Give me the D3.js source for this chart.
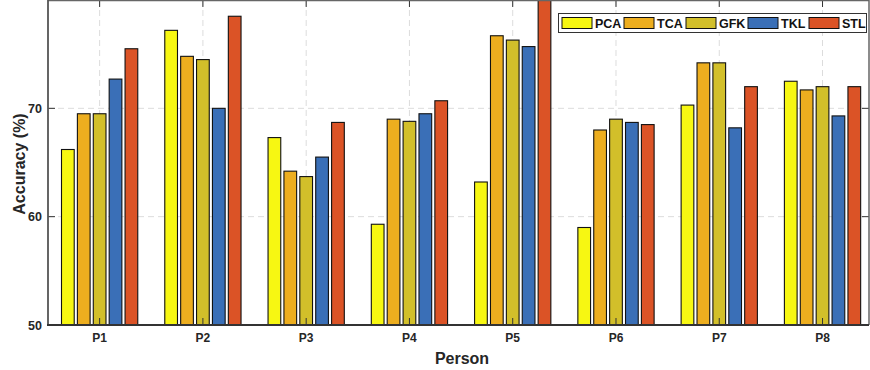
<!DOCTYPE html>
<html>
<head>
<meta charset="utf-8">
<script src="https://cdn.jsdelivr.net/npm/d3@7"></script>
<style>
  html, body { margin: 0; padding: 0; background: #fff; }
  svg { display: block; font-family: "Liberation Sans", Arial, Helvetica, sans-serif; font-weight: bold; }
</style>
</head>
<body>
<div id="chart"></div>
<script>
// Accuracy theo từng người, 5 phương pháp
const persons = ["P1", "P2", "P3", "P4", "P5", "P6", "P7", "P8"];
const methods = ["PCA", "TCA", "GFK", "TKL", "STL"];
const colors  = ["#f7f712", "#edae1f", "#d2bf2a", "#3a6fb7", "#db5326"];

const pca = [66.2, 77.2, 67.3, 59.3, 63.2, 59.0, 70.3, 72.5];
const tca = [69.5, 74.8, 64.2, 69.0, 76.7, 68.0, 74.2, 71.7];
const gfk = [69.5, 74.5, 63.7, 68.8, 76.3, 69.0, 74.2, 72.0];
const tkl = [72.7, 70.0, 65.5, 69.5, 75.7, 68.7, 68.2, 69.3];
const stl = [75.5, 78.5, 68.7, 70.7, 82.0, 68.5, 72.0, 72.0];

const yTicks = [50, 60, 70];

(function () {
  const W = 870, H = 370;
  const left = 48, right = 869, top = 0, bottom = 325;
  const series = [pca, tca, gfk, tkl, stl];

  const svg = d3.select("#chart").append("svg")
    .attr("width", W)
    .attr("height", H);

  // x: 1..8 theo kiểu MATLAB, y: 50..80
  const x = d3.scaleLinear().domain([0.5, 8.45]).range([left, right]);
  const y = d3.scaleLinear().domain([50, 80]).range([bottom, top]);

  const groupW = Math.min(0.8, 5 / (5 + 1.5));
  const pitch = groupW / methods.length;
  const unit = x(2) - x(1);
  const barW = pitch * 0.8 * unit;

  // ===== Grid =====
  const grid = svg.append("g").attr("stroke", "#dcdcdc").attr("stroke-dasharray", "6,4").attr("stroke-width", 1);
  grid.selectAll(".gx").data(persons).enter().append("line")
    .attr("x1", (d, i) => x(i + 1)).attr("x2", (d, i) => x(i + 1))
    .attr("y1", top).attr("y2", bottom);
  grid.selectAll(".gy").data(yTicks.slice(1)).enter().append("line")
    .attr("x1", left).attr("x2", right)
    .attr("y1", d => y(d)).attr("y2", d => y(d));

  // ===== Bars =====
  svg.append("clipPath").attr("id", "plotclip")
    .append("rect").attr("x", left).attr("y", top).attr("width", right - left).attr("height", bottom - top);

  const bars = svg.append("g").attr("clip-path", "url(#plotclip)");
  series.forEach((vals, s) => {
    const off = (s - (methods.length - 1) / 2) * pitch;
    bars.selectAll(".b" + s).data(vals).enter().append("rect")
      .attr("x", (d, i) => x(i + 1 + off) - barW / 2)
      .attr("y", d => y(d))
      .attr("width", barW)
      .attr("height", d => y(50) - y(d))
      .attr("fill", colors[s])
      .attr("stroke", "#111")
      .attr("stroke-width", 1.1);
  });

  // ===== Axes (box on, ticks vào trong) =====
  const axes = svg.append("g");
  const tk = 7;
  persons.forEach((p, i) => {
    axes.append("line").attr("x1", x(i + 1)).attr("x2", x(i + 1))
      .attr("y1", bottom).attr("y2", bottom - tk).attr("stroke", "#333").attr("stroke-width", 1);
    axes.append("line").attr("x1", x(i + 1)).attr("x2", x(i + 1))
      .attr("y1", top).attr("y2", top + tk).attr("stroke", "#333").attr("stroke-width", 1);
  });
  yTicks.forEach(v => {
    axes.append("line").attr("x1", left).attr("x2", left + tk)
      .attr("y1", y(v)).attr("y2", y(v)).attr("stroke", "#333").attr("stroke-width", 1);
    axes.append("line").attr("x1", right).attr("x2", right - tk)
      .attr("y1", y(v)).attr("y2", y(v)).attr("stroke", "#333").attr("stroke-width", 1);
  });

  axes.append("line").attr("x1", left).attr("x2", right).attr("y1", top + 0.5).attr("y2", top + 0.5)
    .attr("stroke", "#666").attr("stroke-width", 1.5);
  axes.append("line").attr("x1", right).attr("x2", right).attr("y1", top).attr("y2", bottom)
    .attr("stroke", "#666").attr("stroke-width", 1.5);
  axes.append("line").attr("x1", left).attr("x2", left).attr("y1", top).attr("y2", bottom + 1)
    .attr("stroke", "#555").attr("stroke-width", 1.8);
  axes.append("line").attr("x1", left - 1).attr("x2", right).attr("y1", bottom).attr("y2", bottom)
    .attr("stroke", "#333").attr("stroke-width", 2.2);

  // tick labels
  axes.selectAll(".yl").data(yTicks).enter().append("text")
    .attr("x", left - 6).attr("y", d => y(d) + 4.5)
    .attr("text-anchor", "end")
    .style("font-size", "12.5px").style("fill", "#262626")
    .text(d => d);

  axes.selectAll(".xl").data(persons).enter().append("text")
    .attr("x", (d, i) => x(i + 1)).attr("y", bottom + 17)
    .attr("text-anchor", "middle")
    .style("font-size", "12px").style("fill", "#262626")
    .text(d => d);

  svg.append("text")
    .attr("x", 462).attr("y", 364)
    .attr("text-anchor", "middle")
    .style("font-size", "16px").style("fill", "#262626")
    .text("Person");

  svg.append("text")
    .attr("transform", `translate(25,${164}) rotate(-90)`)
    .attr("text-anchor", "middle")
    .style("font-size", "16px").style("fill", "#262626")
    .text("Accuracy (%)");

  // ===== Legend =====
  const lg = svg.append("g");
  lg.append("rect").attr("x", 558.5).attr("y", 13.5).attr("width", 308).attr("height", 19)
    .attr("fill", "#fff").attr("stroke", "#333").attr("stroke-width", 1);
  const swX = [562, 624, 686, 748, 809];
  methods.forEach((m, i) => {
    lg.append("rect").attr("x", swX[i]).attr("y", 17.5).attr("width", 30).attr("height", 11)
      .attr("fill", colors[i]).attr("stroke", "#111").attr("stroke-width", 1);
    lg.append("text").attr("x", swX[i] + 33).attr("y", 27.5)
      .style("font-size", "12.5px").style("fill", "#111")
      .text(m);
  });
})();
</script>
</body>
</html>
